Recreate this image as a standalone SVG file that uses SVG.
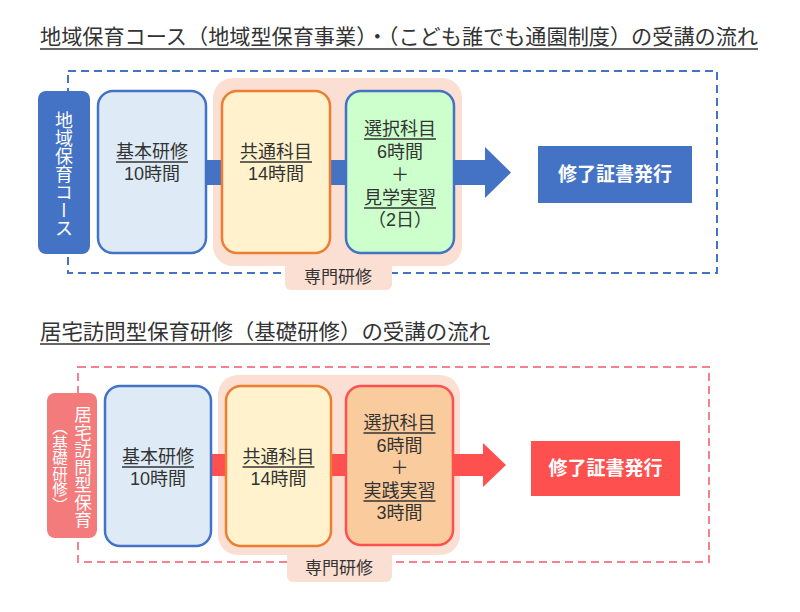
<svg xmlns="http://www.w3.org/2000/svg" width="800" height="612" viewBox="0 0 800 612">
<style>
text{font-family:"Noto Sans CJK JP","Noto Sans",sans-serif;fill:#333}
.t{font-size:21px}
.b{font-size:18px;text-anchor:middle;font-family:"Liberation Sans","Noto Sans CJK JP",sans-serif}
.w{fill:#fff;font-size:19px;font-weight:bold;text-anchor:middle}
.v{fill:#fff;writing-mode:vertical-rl;text-anchor:middle}
.ul{stroke:#333;stroke-width:1.3}
.tul{stroke:#333;stroke-width:1.5}
.dashB{fill:none;stroke:#4472C4;stroke-width:2;stroke-dasharray:8 5}
.dashR{fill:none;stroke:#F4828C;stroke-width:2;stroke-dasharray:8 5}
.pk{fill:#FADFD2}
.bx1{fill:#DEEBF7;stroke:#4472C4;stroke-width:2.5}
.bx2{fill:#FFF2CC;stroke:#ED7D31;stroke-width:2.5}
.bx3g{fill:#CCFFCC;stroke:#4472C4;stroke-width:2.5}
.bx3r{fill:#FACB9C;stroke:#FF5050;stroke-width:2.5}
</style>

<!-- Top section -->
<g id="title1">
<text class="t" x="40" y="44" textLength="718" lengthAdjust="spacingAndGlyphs">地域保育コース（地域型保育事業）・（こども誰でも通園制度）の受講の流れ</text>
<line class="tul" x1="40" y1="49" x2="758" y2="49"/>
</g>
<g id="frame1">
<rect class="dashB" x="68" y="71" width="649" height="202"/>
</g>
<g id="senmon1">
<rect class="pk" x="213" y="78" width="249" height="188" rx="20"/>
<rect class="pk" x="285" y="250" width="107" height="40" rx="6"/>
<text x="338" y="283" style="font-size:17px;text-anchor:middle">専門研修</text>
</g>
<g id="connectors1">
<rect x="205" y="160" width="18" height="25" fill="#4472C4"/>
<rect x="329" y="160" width="18" height="25" fill="#4472C4"/>
<polygon points="453,160 485,160 485,147 511,172.5 485,198 485,185 453,185" fill="#4472C4"/>
</g>
<g id="label1">
<rect x="38" y="91" width="52" height="163" rx="8" fill="#4472C4"/>
<text class="v" x="64" y="174" style="font-size:18px">地域保育コース</text>
</g>
<g id="kihon1">
<rect class="bx1" x="98" y="91" width="108" height="162" rx="15"/>
<text class="b" x="152" y="158">基本研修</text>
<line class="ul" x1="116" y1="162" x2="188" y2="162"/>
<text class="b" x="152" y="180">10時間</text>
</g>
<g id="kyotsu1">
<rect class="bx2" x="222" y="91" width="108" height="162" rx="15"/>
<text class="b" x="276" y="158">共通科目</text>
<line class="ul" x1="240" y1="162" x2="312" y2="162"/>
<text class="b" x="276" y="180">14時間</text>
</g>
<g id="sentaku1">
<rect class="bx3g" x="346" y="91" width="108" height="162" rx="15"/>
<text class="b" x="400" y="135">選択科目</text>
<line class="ul" x1="364" y1="139" x2="436" y2="139"/>
<text class="b" x="400" y="158">6時間</text>
<text class="b" x="400" y="181">＋</text>
<text class="b" x="400" y="204">見学実習</text>
<line class="ul" x1="364" y1="208" x2="436" y2="208"/>
<text class="b" x="400" y="226">（2日）</text>
</g>
<g id="shuryo1">
<rect x="538" y="146" width="154" height="57" fill="#4472C4"/>
<text class="w" x="615" y="181">修了証書発行</text>
</g>

<!-- Bottom section -->
<g id="title2">
<text class="t" x="40" y="339" textLength="450" lengthAdjust="spacingAndGlyphs">居宅訪問型保育研修（基礎研修）の受講の流れ</text>
<line class="tul" x1="40" y1="344" x2="490" y2="344"/>
</g>
<g id="frame2">
<rect class="dashR" x="78" y="367" width="631" height="195"/>
</g>
<g id="senmon2">
<rect class="pk" x="218" y="375" width="242" height="180" rx="20"/>
<rect class="pk" x="287" y="540" width="105" height="42" rx="6"/>
<text x="339" y="574" style="font-size:17px;text-anchor:middle">専門研修</text>
</g>
<g id="connectors2">
<rect x="210" y="454" width="17" height="22" fill="#FF5050"/>
<rect x="330" y="454" width="17" height="22" fill="#FF5050"/>
<polygon points="452,454 483,454 483,443 506,465 483,487 483,476 452,476" fill="#FF5050"/>
</g>
<g id="label2">
<rect x="47" y="393" width="50" height="145" rx="8" fill="#F37B7B"/>
<text class="v" x="83" y="467" style="font-size:17.5px">居宅訪問型保育</text>
<text class="v" x="60" y="466" style="font-size:15.5px">（基礎研修）</text>
</g>
<g id="kihon2">
<rect class="bx1" x="105" y="386" width="106" height="160" rx="15"/>
<text class="b" x="158" y="463">基本研修</text>
<line class="ul" x1="122" y1="467" x2="194" y2="467"/>
<text class="b" x="158" y="485">10時間</text>
</g>
<g id="kyotsu2">
<rect class="bx2" x="226" y="386" width="105" height="160" rx="15"/>
<text class="b" x="278.5" y="463">共通科目</text>
<line class="ul" x1="242.5" y1="467" x2="314.5" y2="467"/>
<text class="b" x="278.5" y="485">14時間</text>
</g>
<g id="sentaku2">
<rect class="bx3r" x="346" y="386" width="107" height="159" rx="15"/>
<text class="b" x="399.5" y="429">選択科目</text>
<line class="ul" x1="363.5" y1="433" x2="435.5" y2="433"/>
<text class="b" x="399.5" y="452">6時間</text>
<text class="b" x="399.5" y="474">＋</text>
<text class="b" x="399.5" y="497">実践実習</text>
<line class="ul" x1="363.5" y1="501" x2="435.5" y2="501"/>
<text class="b" x="399.5" y="519">3時間</text>
</g>
<g id="shuryo2">
<rect x="531" y="441" width="149" height="55" fill="#FF5050"/>
<text class="w" x="605.5" y="475">修了証書発行</text>
</g>
</svg>
